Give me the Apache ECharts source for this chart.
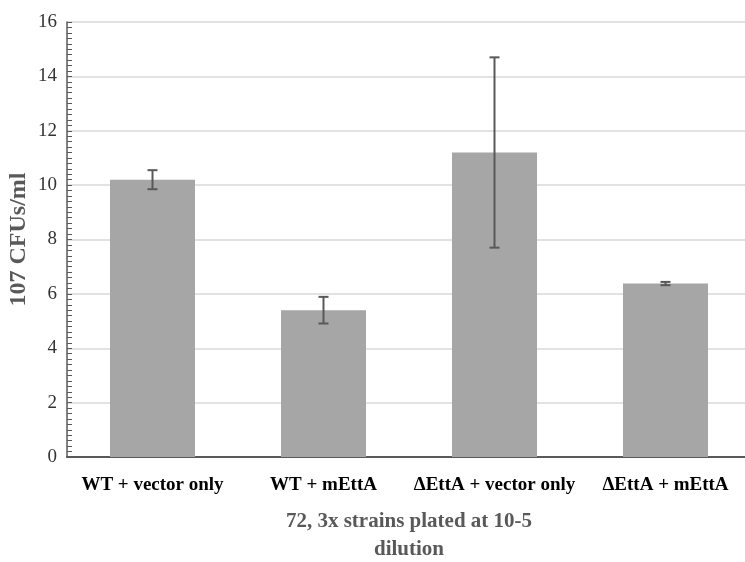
<!DOCTYPE html>
<html>
<head>
<meta charset="utf-8">
<script src="https://cdn.jsdelivr.net/npm/echarts@6/dist/echarts.min.js"></script>
<style>
  html, body { margin: 0; padding: 0; background: #fff; }
  #chart { width: 745px; height: 562px; }
</style>
</head>
<body>
<div id="chart"></div>
<script>
// Strain groups and their mean counts with spread
const categories = ['WT + vector only', 'WT + mEttA', '\u0394EttA + vector only', '\u0394EttA + mEttA'];
const means = [10.2, 5.4, 11.2, 6.38];
const errors = [0.35, 0.49, 3.5, 0.06];
const yTicks = [0, 2, 4, 6, 8, 10, 12, 14, 16];

const serif = '"Liberation Serif", "Times New Roman", serif';

const errorData = categories.map((c, i) => [i, means[i] - errors[i], means[i] + errors[i]]);

const chart = echarts.init(document.getElementById('chart'), null, { renderer: 'canvas' });

chart.setOption({
  animation: false,
  grid: { left: 67, top: 22, width: 684, height: 435, containLabel: false, outerBoundsMode: 'none' },
  xAxis: {
    type: 'category',
    data: categories,
    boundaryGap: true,
    axisLine: { lineStyle: { color: '#595959', width: 2 } },
    axisTick: { show: false },
    axisLabel: {
      interval: 0,
      margin: 19,
      color: '#000',
      fontFamily: serif,
      fontWeight: 'bold',
      fontSize: 19
    },
    name: '72, 3x strains plated at 10-5\ndilution',
    nameLocation: 'middle',
    nameGap: 51,
    nameMoveOverlap: false,
    nameTextStyle: {
      color: '#595959',
      fontFamily: serif,
      fontWeight: 'bold',
      fontSize: 21,
      lineHeight: 28
    }
  },
  yAxis: {
    type: 'value',
    min: yTicks[0],
    max: yTicks[yTicks.length - 1],
    interval: yTicks[1] - yTicks[0],
    axisLine: { show: true, lineStyle: { color: '#595959', width: 1.5 } },
    axisTick: { show: true, inside: true, length: 5, lineStyle: { color: '#595959' } },
    minorTick: { show: true, splitNumber: 10, length: 5, lineStyle: { color: '#595959' } },
    splitLine: { show: true, lineStyle: { color: '#d9d9d9', width: 1.5 } },
    axisLabel: {
      margin: 10,
      color: '#333',
      fontFamily: serif,
      fontSize: 19
    },
    name: '107 CFUs/ml',
    nameLocation: 'middle',
    nameGap: 36,
    nameMoveOverlap: false,
    nameTextStyle: {
      color: '#595959',
      fontFamily: serif,
      fontWeight: 'bold',
      fontSize: 24
    }
  },
  series: [
    {
      type: 'bar',
      data: means,
      barWidth: 85,
      itemStyle: { color: '#a6a6a6' },
      z: 2
    },
    {
      type: 'custom',
      data: errorData,
      z: 3,
      renderItem: function (params, api) {
        const x = api.value(0);
        const lo = api.coord([x, api.value(1)]);
        const hi = api.coord([x, api.value(2)]);
        const half = 5;
        const style = { stroke: '#595959', lineWidth: 2 };
        return {
          type: 'group',
          children: [
            { type: 'line', shape: { x1: hi[0], y1: hi[1], x2: lo[0], y2: lo[1] }, style: style },
            { type: 'line', shape: { x1: hi[0] - half, y1: hi[1], x2: hi[0] + half, y2: hi[1] }, style: style },
            { type: 'line', shape: { x1: lo[0] - half, y1: lo[1], x2: lo[0] + half, y2: lo[1] }, style: style }
          ]
        };
      }
    }
  ]
});
</script>
</body>
</html>
